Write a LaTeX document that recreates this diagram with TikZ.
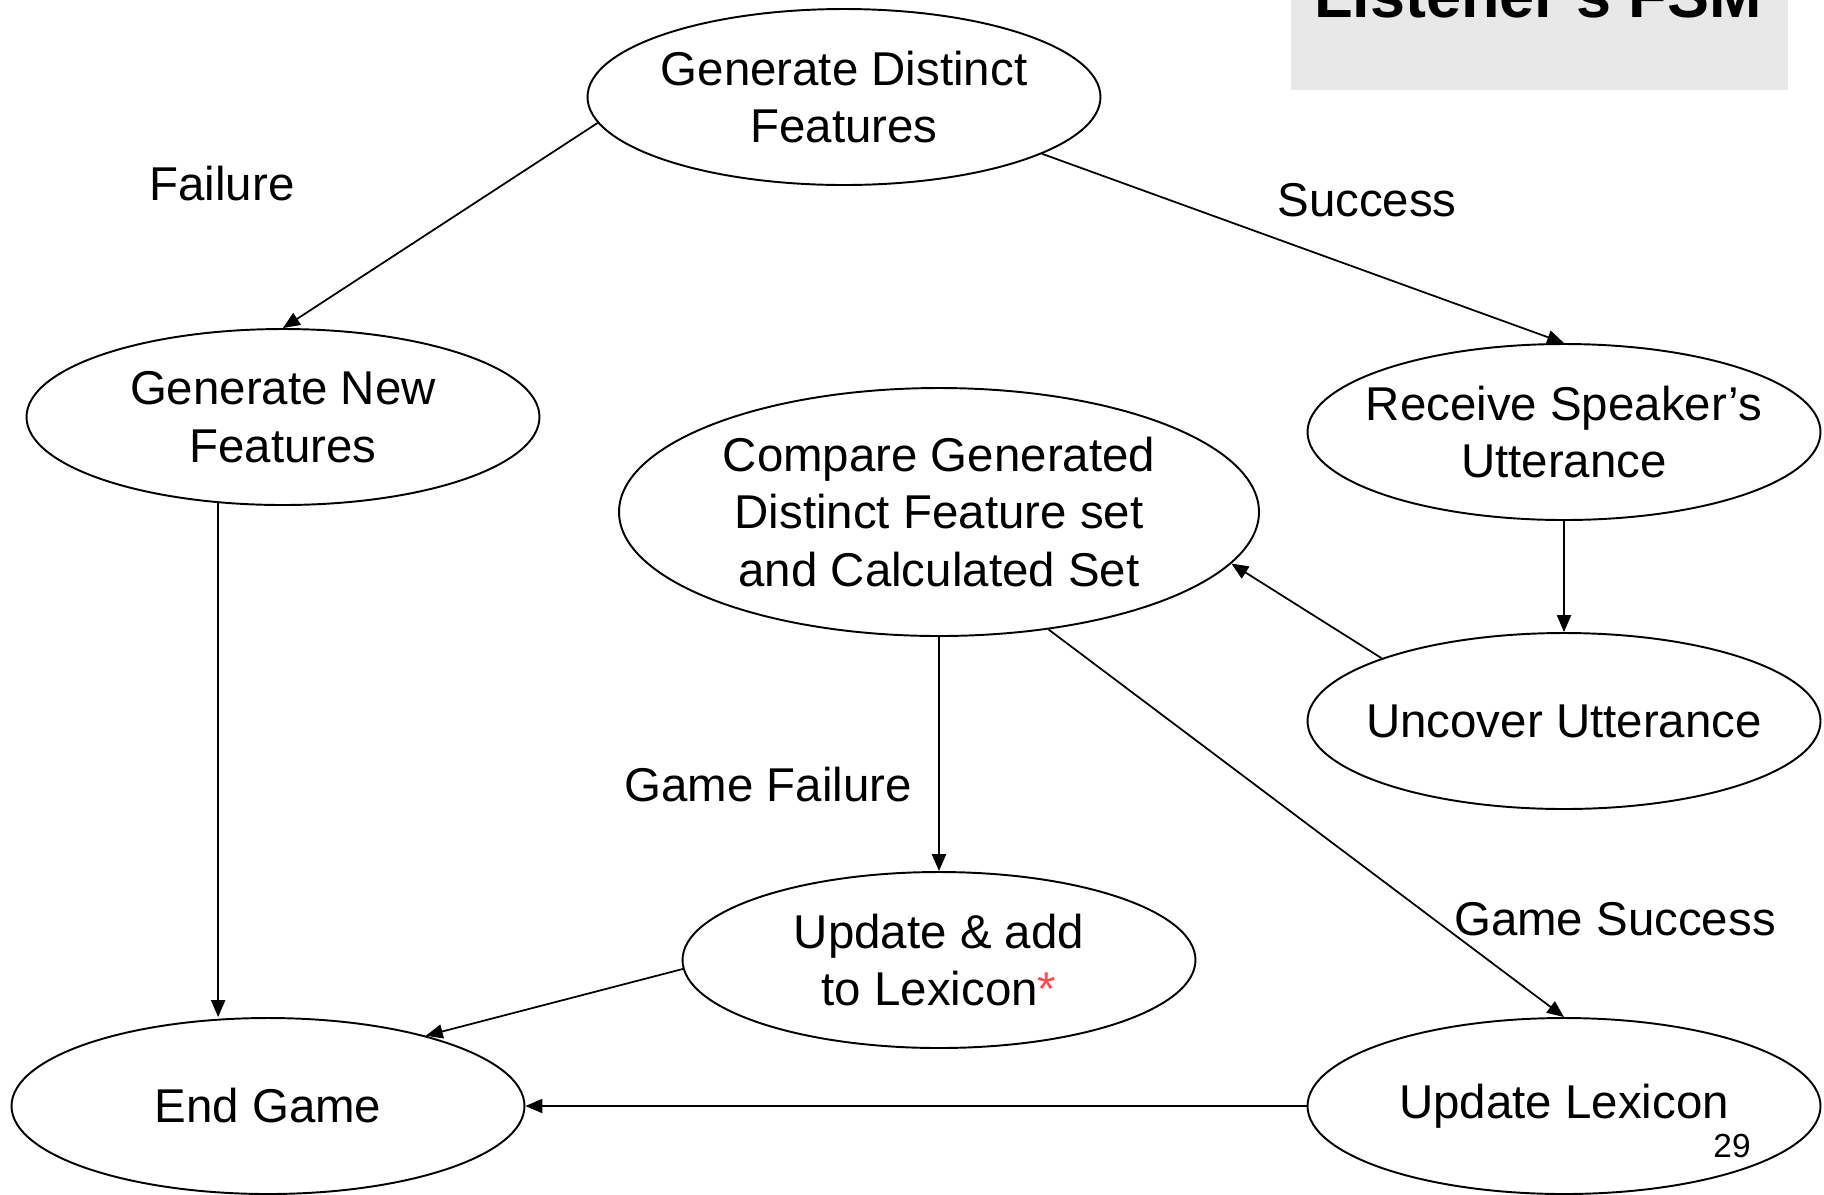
\documentclass[tikz,border=0pt]{standalone}
\usepackage{fontspec}
\setmainfont{Liberation Sans}
\usetikzlibrary{arrows.meta,shapes.geometric}
\definecolor{Panel}{HTML}{E8E8E8}
\definecolor{Star}{HTML}{FF4D4D}

\begin{document}
\begin{tikzpicture}[x=0.1cm,y=-0.1cm,
    state/.style={ellipse,draw,line width=0.55pt,inner xsep=-0.3cm,inner ysep=0pt,
      minimum width=5.13cm,minimum height=1.76cm,align=center,
      font=\fontsize{13.5}{16.4}\selectfont},
    lbl/.style={font=\fontsize{13.5}{16.4}\selectfont},
    flow/.style={-{Triangle[length=4.8pt,width=4pt]},line width=0.5pt}]
        \useasboundingbox (0,0) rectangle (182.4,119.4);
        \clip (0,0) rectangle (182.4,119.4);
        \fill[Panel] (129.1,-5) rectangle (178.8,9.0);
        \node[anchor=base,font=\bfseries\fontsize{17.9}{20}\selectfont] (title) at (153.8,1.7) {Listener’s FSM};
        \node[state] (gendist) at (84.4,9.7) {Generate Distinct\\Features};
        \node[state] (gennew) at (28.3,41.7) {Generate New\\Features};
        \node[state] (receive) at (156.4,43.2) {Receive Speaker’s\\Utterance};
        \node[state,minimum width=6.40cm,minimum height=2.48cm] (compare) at (93.9,51.2) {Compare Generated\\Distinct Feature set\\and Calculated Set};
        \node[state] (uncover) at (156.4,72.1) {Uncover Utterance};
        \node[state] (addlex) at (93.9,96.0) {Update \& add\\ to Lexicon{\color{Star}*}};
        \node[state] (endgame) at (26.8,110.6) {End Game};
        \node[state] (updlex) at (156.4,110.6) {Update Lexicon};
        \draw[flow] (gendist.186) -- (gennew.north);
        \draw[flow] (gendist.344) -- (receive.north);
        \draw[flow] (gennew.233) -- (gennew.233 |- endgame.north);
        \draw[flow] (receive.south) -- (uncover.north);
        \draw[flow] (uncover.161) -- (compare.350);
        \draw[flow] (compare.south) -- (addlex.north);
        \draw[flow] (compare.313) -- (updlex.north);
        \draw[flow] (addlex.182) -- (endgame.24);
        \draw[flow] (updlex.west) -- (endgame.east);
        \node[lbl] (failure) at (22.2,18.4) {Failure};
        \node[lbl] (success) at (136.7,20.0) {Success};
        \node[lbl] (gamefail) at (76.8,78.5) {Game Failure};
        \node[lbl] (gamesucc) at (161.5,91.9) {Game Success};
        \node[font=\fontsize{9.5}{11}\selectfont] (page) at (173.2,114.6) {29};
      \end{tikzpicture}
\end{document}
